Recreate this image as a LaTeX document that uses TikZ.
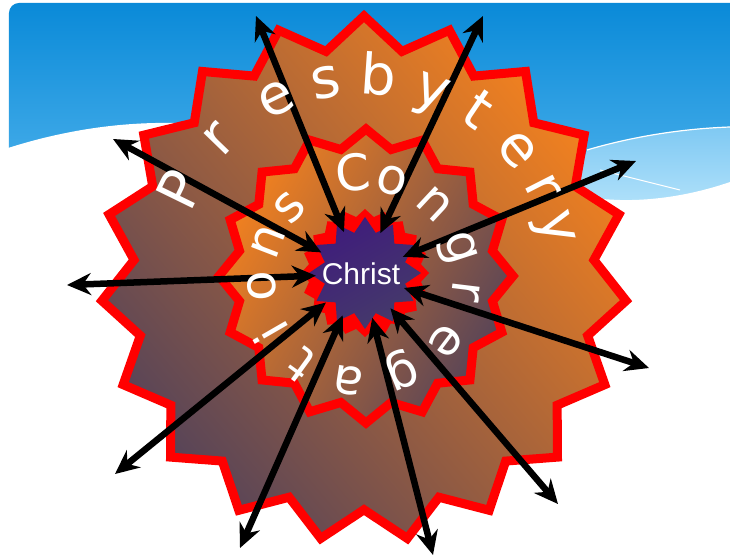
\documentclass[tikz,border=0pt]{standalone}
\usepackage{fontspec}
\usepackage{tikz}
\usetikzlibrary{shapes.geometric,arrows.meta}
\newfontfamily\ringfont{DejaVu Sans}
\newfontfamily\corefont{Liberation Sans}

\definecolor{skytop}{HTML}{0A8AD8}
\definecolor{skybot}{HTML}{5BBAF0}
\definecolor{skypale}{HTML}{7FC9F3}
\definecolor{skymist}{HTML}{B9E5FB}
\definecolor{flame}{HTML}{F2811F}
\definecolor{dusk}{HTML}{574458}
\definecolor{royal}{HTML}{3F1C7C}
\definecolor{royaldim}{HTML}{453A6A}

\begin{document}
\begin{tikzpicture}[x=1pt,y=1pt,
    ring/.style={star,draw=red,line width=9pt,inner sep=0pt},
    glyph/.style={text=white,anchor=base,inner sep=0pt},
    arr/.style={<->,>={Stealth[length=24pt,width=22pt,inset=8pt]},line width=6.5pt,black}]

    % slide background
    \clip (-364,-280) rectangle (366,279);
    \fill[white] (-364,-280) rectangle (366,279);
    \shade[top color=skytop,bottom color=skybot,rounded corners=10pt] (-355,276) rectangle (390,40);
    \shade[top color=skypale,bottom color=skymist] (223,129) .. controls (260,140) and (310,150) .. (366,152) -- (366,60) -- (200,60) -- cycle;
    \fill[white] (-365,128) .. controls (-300,150) and (-240,157) .. (-190,156) .. controls (-40,150) and (150,82) .. (256,79) .. controls (300,78) and (340,88) .. (366,97) -- (366,-280) -- (-365,-280) -- cycle;
    \draw[white,line width=1.2pt] (223,129) .. controls (260,140) and (310,150) .. (366,152);
    \draw[white,line width=1pt] (236,109) -- (316,89);

    % the three stars
    \node[ring,star points=19,star point ratio=1.14,minimum size=526pt,
          top color=flame,bottom color=dusk,shading angle=-50] (presbytery) at (0,0) {};
    \node[ring,star points=16,star point ratio=1.14,minimum size=294pt,
          top color=flame,bottom color=dusk,shading angle=60] (congregations) at (2,3) {};
    \node[star,star points=20,star point ratio=1.13,minimum size=128pt,inner sep=0pt,fill=red] (halo) at (1,6) {};
    \node[star,star points=12,star point ratio=1.35,minimum size=112pt,inner sep=0pt,
          top color=royal,bottom color=royaldim,shading angle=30] (core) at (1,6) {};
    \node[circle,minimum size=90pt,inner sep=0pt,text=white,
          font=\corefont\fontsize{30}{30}\selectfont] (christ) at (-3,5) {Christ};

    % arrow ends
    \coordinate (a1) at (-108,263);
    \coordinate (a2) at (119,263);
    \coordinate (a3) at (-251,140);
    \coordinate (a4) at (272,118);
    \coordinate (a5) at (-297,-6);
    \coordinate (a6) at (285,-89);
    \coordinate (a7) at (-249,-195);
    \coordinate (a8) at (194,-225);
    \coordinate (a9) at (-124,-269);
    \coordinate (a10) at (69,-276);
    \foreach \i in {1,...,10}
        \draw[arr] (christ) -- (a\i);

    % ring lettering
    \foreach \a/\ch in {154/P,136/r,116/e,101/s,86/b,70/y,56/t,40/e,27/r,15/y}
        \node[glyph,font=\ringfont\fontsize{56}{56}\selectfont,rotate=\a-90] at (\a:185) {\ch};
    \foreach \a/\ch in {96/C,74/o,47/n,18/g,-7/r,-37/e,-68/g,-99/a,-126/t,-150/i,-176/o,-201/n,-224/s}
        \node[glyph,font=\ringfont\fontsize{50}{50}\selectfont,rotate=\a-90] at (\a:89) {\ch};
\end{tikzpicture}
\end{document}
